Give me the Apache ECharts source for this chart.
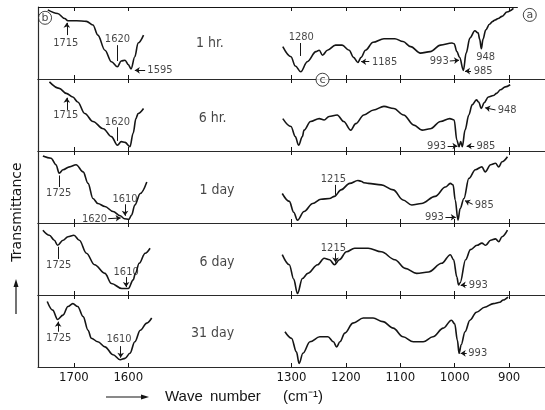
<!DOCTYPE html>
<html>
<head>
<meta charset="utf-8">
<script src="https://cdn.jsdelivr.net/npm/echarts@6/dist/echarts.min.js"></script>
<style>
  html, body { margin: 0; padding: 0; background: #fff; }
  #chart { width: 545px; height: 410px; }
</style>
</head>
<body>
<div id="chart"></div>
<script>
// IR spectra after 1 hr … 31 days. x: wave number (cm-1), y: relative transmittance
// (0 = floor of a strip, 100 = top of a strip). Each strip has a carbonyl region
// (left) and a fingerprint region (right).
const stripNames = ['1 hr.', '6 hr.', '1 day', '6 day', '31 day'];
const tickValues = [1700, 1600, 1300, 1200, 1100, 1000, 900];

const hr1Left = [[1748,96],[1730,91],[1717,84],[1711,81],[1695,81],[1677,80],[1665,75],[1656,61],[1643,40],[1631,24],[1620,17],[1613,25],[1606,26],[1600,20],[1595,14],[1588,31],[1582,50],[1572,61]];
const hr1Right = [[1316,45],[1301,31],[1293,18],[1283,10],[1271,24],[1255,38],[1249,40],[1243,33],[1234,40],[1219,47],[1207,47],[1194,40],[1186,30],[1178,23],[1172,30],[1164,40],[1150,51],[1130,56],[1110,56],[1095,52],[1081,45],[1063,36],[1045,38],[1026,47],[1005,50],[1001,49],[996,38],[991,30],[984,12],[979,36],[972,57],[963,67],[957,64],[954,55],[951,42],[948,55],[943,68],[936,76],[930,80],[926,82],[920,84],[913,87],[904,93],[892,98]];

const hr6Left = [[1745,96],[1727,87],[1714,80],[1702,75],[1693,68],[1680,52],[1665,41],[1646,31],[1631,20],[1620,8],[1613,13],[1606,12],[1597,6],[1591,25],[1586,45],[1582,52],[1572,59]];
const hr6Right = [[1316,45],[1301,34],[1293,20],[1287,8],[1280,20],[1277,29],[1265,41],[1249,45],[1240,43],[1231,48],[1216,50],[1204,41],[1191,29],[1182,38],[1167,50],[1149,57],[1130,62],[1112,59],[1094,50],[1075,36],[1060,29],[1045,31],[1026,41],[1009,45],[1001,43],[996,15],[992,6],[989,13],[986,6],[981,29],[974,50],[968,64],[960,71],[956,68],[951,59],[946,67],[938,75],[929,77],[923,80],[916,85],[907,89],[898,92]];

const day1Left = [[1757,93],[1742,90],[1733,81],[1727,69],[1720,74],[1708,78],[1696,81],[1683,71],[1674,55],[1665,34],[1656,27],[1643,23],[1628,16],[1615,10],[1607,6],[1599,5],[1594,11],[1588,25],[1578,41],[1566,57]];
const day1Right = [[1317,41],[1304,30],[1296,15],[1289,4],[1277,16],[1261,27],[1246,33],[1230,34],[1221,37],[1209,46],[1193,55],[1178,59],[1172,58],[1167,56],[1159,55],[1135,53],[1113,46],[1095,32],[1079,25],[1061,27],[1036,37],[1017,50],[1008,55],[1003,53],[999,32],[994,4],[990,20],[983,34],[974,62],[962,74],[950,78],[944,71],[934,81],[925,83],[919,78],[913,85],[903,92]];

const day6Left = [[1757,90],[1745,83],[1736,76],[1730,69],[1720,76],[1711,81],[1700,83],[1690,76],[1677,58],[1662,42],[1643,30],[1631,16],[1612,9],[1600,9],[1591,21],[1587,30],[1580,44],[1569,58],[1560,65]];
const day6Right = [[1317,56],[1304,42],[1296,22],[1289,2],[1280,23],[1270,30],[1252,42],[1240,51],[1230,49],[1221,42],[1212,49],[1199,60],[1184,65],[1159,65],[1135,60],[1110,49],[1091,37],[1070,30],[1048,32],[1024,44],[1008,56],[1002,49],[996,25],[993,14],[990,17],[980,49],[971,63],[959,69],[950,72],[943,69],[934,76],[925,78],[919,74],[913,81],[903,90]];

const day31Left = [[1749,91],[1739,79],[1730,66],[1720,72],[1711,84],[1702,88],[1693,84],[1683,70],[1674,51],[1668,40],[1656,35],[1643,28],[1628,17],[1615,10],[1606,12],[1597,19],[1588,35],[1578,51],[1566,61],[1557,68]];
const day31Right = [[1312,49],[1300,40],[1291,21],[1286,5],[1279,19],[1266,35],[1248,42],[1233,42],[1223,35],[1217,28],[1211,35],[1202,47],[1187,61],[1168,68],[1150,68],[1132,63],[1113,54],[1095,42],[1076,35],[1058,35],[1040,42],[1021,54],[1006,65],[1000,60],[995,37],[992,19],[988,31],[981,49],[972,65],[960,76],[945,83],[929,88],[917,90],[911,93],[902,97]];

const stripLeft = [hr1Left, hr6Left, day1Left, day6Left, day31Left];
const stripRight = [hr1Right, hr6Right, day1Right, day6Right, day31Right];

// Band annotations: [text, textWn, textV, align, fromWn, fromV, toWn, toV, arrowhead]
const hr1Notes = [
  ['1715', 1715, 50, 'center', 1713, 61, 1713, 78, true],
  ['1620', 1620, 56, 'center', 1620, 47, 1620, 25, false],
  ['1595', 1565, 12, 'left', 1569, 12, 1588, 12, true],
  ['1280', 1282, 58, 'center', 1283, 50, 1283, 32, false],
  ['1185', 1152, 24, 'left', 1157, 24, 1172, 24, true],
  ['993', 1011, 25, 'right', 1009, 25, 992, 26, true],
  ['985', 965, 11, 'left', 970, 11, 981, 11, true],
  ['948', 943, 31, 'center', null, null, null, null, false]
];
const hr6Notes = [
  ['1715', 1715, 50, 'center', 1713, 57, 1713, 74, true],
  ['1620', 1620, 40, 'center', 1620, 33, 1620, 14, false],
  ['948', 921, 57, 'left', 925, 57, 944, 60, true],
  ['993', 1016, 7, 'right', 1013, 7, 995, 7, true],
  ['985', 960, 7, 'left', 964, 7, 978, 7, true]
];
const day1Notes = [
  ['1725', 1728, 42, 'center', 1727, 50, 1727, 66, false],
  ['1610', 1606, 33, 'center', 1606, 26, 1606, 10, true],
  ['1620', 1639, 6, 'right', 1637, 6, 1614, 7, true],
  ['1215', 1223, 61, 'center', 1219, 53, 1219, 39, false],
  ['985', 963, 25, 'left', 967, 26, 981, 31, true],
  ['993', 1020, 8, 'right', 1017, 8, 998, 8, true]
];
const day6Notes = [
  ['1725', 1728, 42, 'center', 1729, 50, 1729, 67, false],
  ['1610', 1604, 32, 'center', 1604, 25, 1604, 11, true],
  ['1215', 1223, 65, 'center', 1219, 58, 1219, 45, true],
  ['993', 974, 14, 'left', 978, 14, 989, 14, true]
];
const day31Notes = [
  ['1725', 1728, 40, 'center', 1729, 49, 1729, 63, true],
  ['1610', 1617, 38, 'center', 1614, 29, 1614, 13, true],
  ['993', 975, 19, 'left', 978, 19, 989, 19, true]
];
const stripNotes = [hr1Notes, hr6Notes, day1Notes, day6Notes, day31Notes];

// strip caption position [wn, v]
const captionPos = [[1450, 50], [1445, 46], [1437, 46], [1437, 46], [1445, 47]];
// circled letters: [letter, strip, wn, v]
const circled = [['b', 0, 1753, 85], ['a', 0, 862, 89], ['c', 1, 1243, 99]];

const INK = '#151515';
const NARROW = "'Liberation Sans Narrow', 'DejaVu Sans Condensed', 'Liberation Sans', sans-serif";
const X_MIN = 834, X_MAX = 1766;
const TOP = 7, STRIP_H = 72;

const grids = [], xAxes = [], yAxes = [], series = [];

stripNames.forEach((name, i) => {
  grids.push({ left: 38, right: 0, top: TOP + STRIP_H * i, height: STRIP_H });
  const axisBase = {
    gridIndex: i, type: 'value', inverse: true, min: X_MIN, max: X_MAX,
    splitLine: { show: false },
    axisTick: { show: true, inside: true, length: 4, customValues: tickValues, lineStyle: { color: INK, width: 1 } }
  };
  // bottom axis (strip divider / main axis)
  xAxes.push(Object.assign({}, axisBase, {
    position: 'bottom',
    axisLine: { show: true, lineStyle: { color: '#2a2a2a', width: 1 } },
    axisLabel: {
      show: i === stripNames.length - 1, customValues: tickValues,
      formatter: v => String(v),
      color: INK, fontSize: 13, fontFamily: NARROW, margin: 4
    }
  }));
  // top axis: ticks hanging down from the line above
  xAxes.push(Object.assign({}, axisBase, {
    position: 'top',
    axisLine: { show: i !== 0, lineStyle: { color: '#2a2a2a', width: 1 } },
    axisLabel: { show: false }
  }));
  yAxes.push({
    gridIndex: i, type: 'value', min: 0, max: 100,
    axisLine: { show: true, lineStyle: { color: '#2a2a2a', width: 1.2 } },
    axisTick: { show: false }, axisLabel: { show: false }, splitLine: { show: false }
  });

  const lineBase = {
    type: 'line', xAxisIndex: 2 * i, yAxisIndex: i, symbol: 'none',
    smooth: 0.35, smoothMonotone: 'x', animation: false, silent: true,
    lineStyle: { color: INK, width: 1.6 }
  };
  series.push(Object.assign({}, lineBase, { data: stripLeft[i] }));
  series.push(Object.assign({}, lineBase, { data: stripRight[i] }));

  // band labels and their pointers
  const notes = stripNotes[i];
  const labelData = notes.map(n => ({ value: [n[1], n[2], n[0]], label: { align: n[3] } }));
  labelData.push({ value: [captionPos[i][0], captionPos[i][1], name],
    label: { align: 'center', fontSize: 14 } });
  const pointerData = notes.filter(n => n[4] !== null).map(n => [
    { coord: [n[4], n[5]], symbol: 'none' },
    { coord: [n[6], n[7]], symbol: n[8] ? 'arrow' : 'none', symbolSize: 5 }
  ]);
  if (i === 0) {
    // top frame line, stopping short of the circled "a"
    pointerData.push([{ coord: [X_MAX, 100], symbol: 'none' }, { coord: [884, 100], symbol: 'none' }]);
  }
  series.push({
    type: 'scatter', xAxisIndex: 2 * i, yAxisIndex: i, symbolSize: 0,
    animation: false, silent: true, clip: false,
    data: labelData,
    label: {
      show: true, position: [0, 0], verticalAlign: 'middle', color: INK,
      fontSize: 11, fontFamily: NARROW, formatter: p => p.value[2]
    },
    markLine: {
      silent: true, animation: false,
      lineStyle: { color: INK, width: 1, type: 'solid' },
      label: { show: false },
      data: pointerData
    }
  });
});

// circled panel letters
circled.forEach(c => {
  series.push({
    type: 'scatter', xAxisIndex: 2 * c[1], yAxisIndex: c[1], clip: false,
    symbol: 'circle', symbolSize: 13, animation: false, silent: true,
    itemStyle: { color: '#fff', borderColor: INK, borderWidth: 1 },
    data: [[c[2], c[3], c[0]]],
    label: { show: true, position: 'inside', color: INK, fontSize: 11,
      fontFamily: "'DejaVu Sans', sans-serif", formatter: p => p.value[2] }
  });
});

const chart = echarts.init(document.getElementById('chart'), null, { renderer: 'canvas' });
chart.setOption({
  backgroundColor: '#fff',
  animation: false,
  grid: grids,
  xAxis: xAxes,
  yAxis: yAxes,
  series: series,
  graphic: [
    // y-axis title with upward arrow
    { type: 'text', x: 17, y: 212, rotation: Math.PI / 2, style: {
        text: 'Transmittance', fill: INK, font: "14px 'DejaVu Sans', sans-serif",
        align: 'center', verticalAlign: 'middle' } },
    { type: 'line', shape: { x1: 16, y1: 314, x2: 16, y2: 284 }, style: { stroke: INK, lineWidth: 1.2 } },
    { type: 'polygon', shape: { points: [[16, 279], [13.5, 287], [18.5, 287]] }, style: { fill: INK } },
    // x-axis title with rightward arrow
    { type: 'line', shape: { x1: 106, y1: 397, x2: 144, y2: 397 }, style: { stroke: INK, lineWidth: 1.2 } },
    { type: 'polygon', shape: { points: [[149, 397], [141, 394.5], [141, 399.5]] }, style: { fill: INK } },
    { type: 'text', x: 165, y: 397, style: { text: 'Wave', fill: INK,
        font: "15px 'Liberation Sans', sans-serif", verticalAlign: 'middle' } },
    { type: 'text', x: 210, y: 397, style: { text: 'number', fill: INK,
        font: "15px 'Liberation Sans', sans-serif", verticalAlign: 'middle' } },
    { type: 'text', x: 283, y: 397, style: { text: '(cm\u207B\u00B9)', fill: INK,
        font: "15px 'Liberation Sans', sans-serif", verticalAlign: 'middle' } }
  ]
});
</script>
</body>
</html>
